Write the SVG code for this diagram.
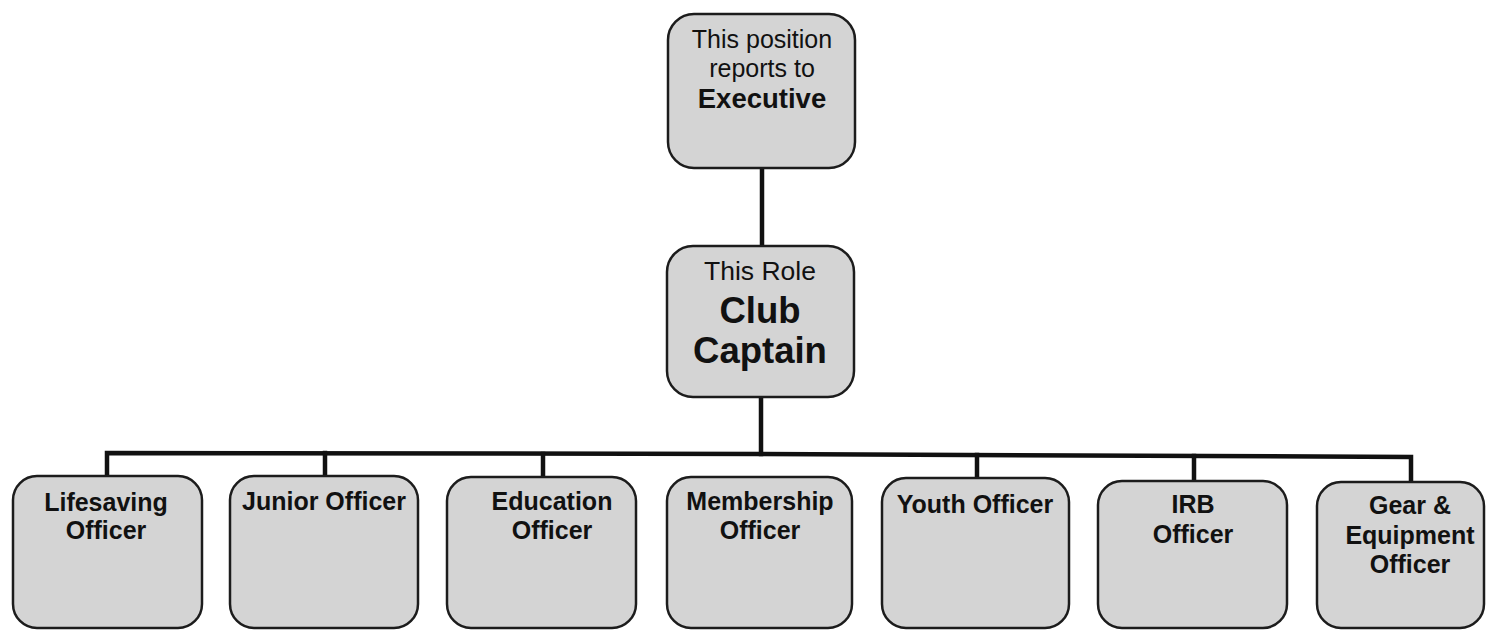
<svg xmlns="http://www.w3.org/2000/svg" width="1487" height="631" viewBox="0 0 1487 631">
<style>
.box{fill:#d4d4d4;stroke:#1c1c1c;stroke-width:2.5}
.ln{stroke:#111;stroke-width:4.5;fill:none;stroke-linecap:square}
text{font-family:"Liberation Sans",Arial,sans-serif;fill:#111;text-anchor:middle}
.r{font-size:25px}
.rr{font-size:26.5px}
.b{font-size:25px;font-weight:bold}
.bb{font-size:36.5px;font-weight:bold}
.be{font-size:27.5px;font-weight:bold}
</style>
<rect width="1487" height="631" fill="#ffffff"/>
<g id="connectors">
<line class="ln" x1="762" y1="168" x2="762" y2="245"/>
<line class="ln" x1="761" y1="397" x2="761" y2="454"/>
<polyline class="ln" points="107,476 107,453 761,454 1411,457 1411,481"/>
<line class="ln" x1="325" y1="453" x2="325" y2="476"/>
<line class="ln" x1="543" y1="454" x2="543" y2="477"/>
<line class="ln" x1="977" y1="455" x2="977" y2="478"/>
<line class="ln" x1="1194" y1="456" x2="1194" y2="481"/>
</g>
<g id="executive">
<rect class="box" x="668" y="14" width="187" height="154" rx="26"/>
<text class="r" x="762" y="48">This position</text>
<text class="r" x="762" y="77">reports to</text>
<text class="be" x="762" y="108">Executive</text>
</g>
<g id="club-captain">
<rect class="box" x="667" y="246" width="187" height="151" rx="26"/>
<text class="rr" x="760" y="280">This Role</text>
<text class="bb" x="760" y="323">Club</text>
<text class="bb" x="760" y="363">Captain</text>
</g>
<g id="lifesaving">
<rect class="box" x="13" y="476" width="189" height="152" rx="24"/>
<text class="b" x="106" y="511">Lifesaving</text>
<text class="b" x="106" y="539">Officer</text>
</g>
<g id="junior">
<rect class="box" x="230" y="476" width="188" height="152" rx="24"/>
<text class="b" x="324" y="510">Junior Officer</text>
</g>
<g id="education">
<rect class="box" x="447" y="477" width="189" height="151" rx="24"/>
<text class="b" x="552" y="510">Education</text>
<text class="b" x="552" y="539">Officer</text>
</g>
<g id="membership">
<rect class="box" x="667" y="477" width="185" height="151" rx="24"/>
<text class="b" x="760" y="510">Membership</text>
<text class="b" x="760" y="539">Officer</text>
</g>
<g id="youth">
<rect class="box" x="882" y="478" width="187" height="150" rx="24"/>
<text class="b" x="975" y="513">Youth Officer</text>
</g>
<g id="irb">
<rect class="box" x="1098" y="481" width="189" height="147" rx="24"/>
<text class="b" x="1193" y="513">IRB</text>
<text class="b" x="1193" y="543">Officer</text>
</g>
<g id="gear">
<rect class="box" x="1317" y="482" width="167" height="146" rx="24"/>
<text class="b" x="1410" y="514">Gear &amp;</text>
<text class="b" x="1410" y="544">Equipment</text>
<text class="b" x="1410" y="573">Officer</text>
</g>
</svg>
